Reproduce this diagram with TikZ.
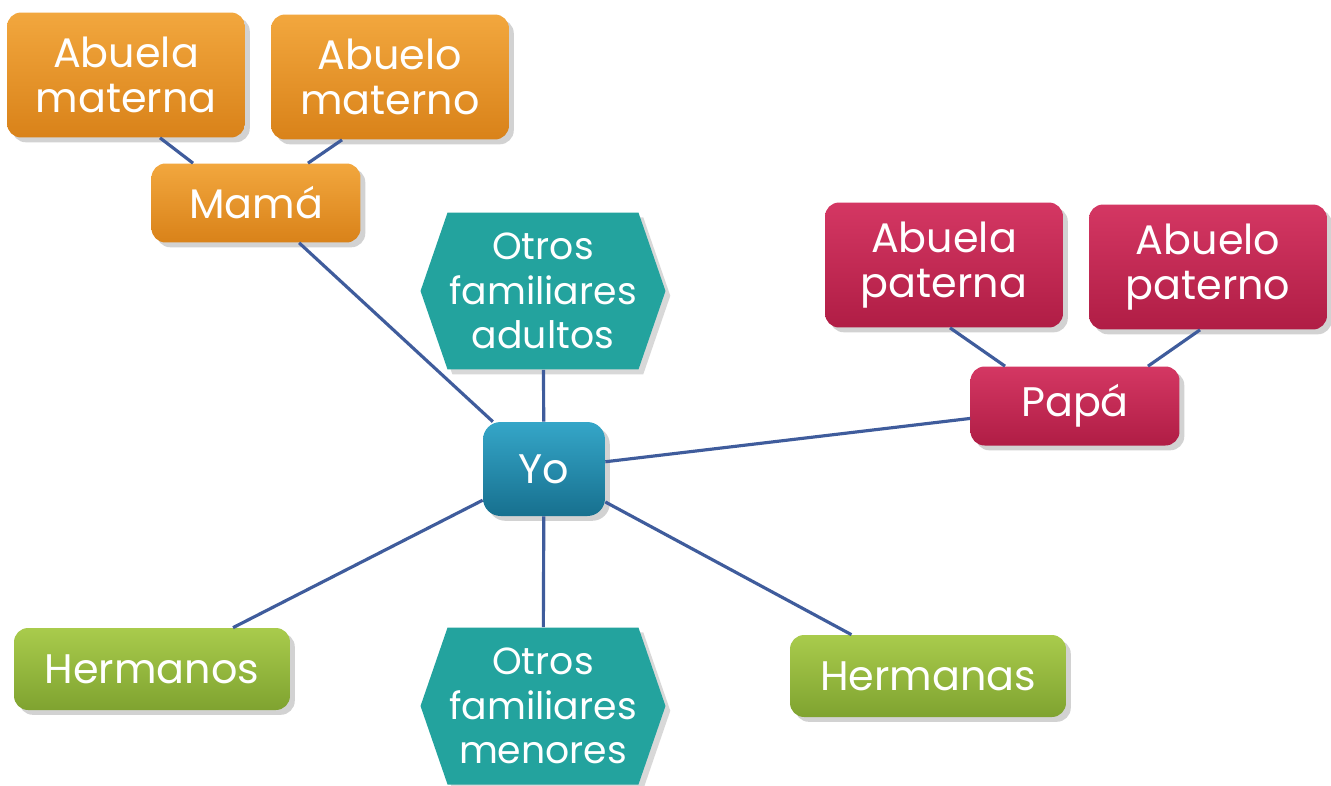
\documentclass[tikz,border=0pt]{standalone}
\usepackage{fontspec}
\setmainfont{Poppins}
\usetikzlibrary{shapes.symbols,shadows}

\definecolor{orangeTop}{HTML}{F2A73E}
\definecolor{orangeBot}{HTML}{D98219}
\definecolor{redTop}{HTML}{D43763}
\definecolor{redBot}{HTML}{B01D45}
\definecolor{tealFill}{HTML}{23A39E}
\definecolor{yoTop}{HTML}{35A6C8}
\definecolor{yoBot}{HTML}{17708F}
\definecolor{greenTop}{HTML}{A9CB4C}
\definecolor{greenBot}{HTML}{7FA330}
\definecolor{lineBlue}{HTML}{3F5C9C}

\begin{document}
\begin{tikzpicture}[x=0.02cm,y=-0.02cm]
        \tikzstyle{box}=[rounded corners=8pt,text=white,align=center,inner sep=2pt,
                         font=\fontsize{23.5}{26}\selectfont,drop shadow={opacity=0.35}]
        \tikzstyle{grandbox}=[box,minimum width=4.76cm,minimum height=2.5cm]
        \tikzstyle{parentbox}=[box,minimum width=4.18cm,minimum height=1.58cm]
        \tikzstyle{siblingbox}=[box,minimum width=5.52cm,minimum height=1.64cm,top color=greenTop,bottom color=greenBot]
        \tikzstyle{hexa}=[signal,signal to=east and west,signal pointer angle=142,fill=tealFill,
                          text=white,align=center,inner sep=0pt,minimum width=4.9cm,minimum height=3.14cm,
                          font=\fontsize{21.5}{25.5}\selectfont,drop shadow={opacity=0.3}]
        \tikzstyle{edge}=[draw,line width=1.8pt,lineBlue]

        \useasboundingbox[fill=white] (0,0) rectangle (1331,785);

        % maternal side
        \node [grandbox,top color=orangeTop,bottom color=orangeBot] (abuelaM) at (126,75) {Abuela\\materna};
        \node [grandbox,top color=orangeTop,bottom color=orangeBot] (abueloM) at (390,77) {Abuelo\\materno};
        \node [parentbox,top color=orangeTop,bottom color=orangeBot] (mama) at (256,203) {Mamá};

        % paternal side
        \node [grandbox,top color=redTop,bottom color=redBot] (abuelaP) at (944,265) {Abuela\\paterna};
        \node [grandbox,top color=redTop,bottom color=redBot] (abueloP) at (1208,267) {Abuelo\\paterno};
        \node [parentbox,top color=redTop,bottom color=redBot] (papa) at (1075,406) {Papá};

        % center
        \node [box,minimum width=2.44cm,minimum height=1.88cm,rounded corners=10pt,
               top color=yoTop,bottom color=yoBot] (yo) at (544,469) {Yo};
        \node [hexa] (adultos) at (543,291) {Otros\\familiares\\adultos};
        \node [hexa] (menores) at (543,706) {Otros\\familiares\\menores};

        % siblings
        \node [siblingbox] (hermanos) at (152,669) {Hermanos};
        \node [siblingbox] (hermanas) at (928,676) {Hermanas};

        \path[edge] ([xshift=0.68cm]abuelaM.south) -- ([xshift=-1.26cm]mama.north);
        \path[edge] ([xshift=-0.96cm]abueloM.south) -- ([xshift=1.04cm]mama.north);
        \path[edge] ([xshift=0.12cm]abuelaP.south) -- ([xshift=-1.4cm]papa.north);
        \path[edge] ([xshift=-0.16cm]abueloP.south) -- ([xshift=1.46cm]papa.north);

        \path[edge] (mama) -- (yo);
        \path[edge] (adultos) -- (yo);
        \path[edge] (papa) -- (yo);
        \path[edge] (hermanos) -- (yo);
        \path[edge] (menores) -- (yo);
        \path[edge] (hermanas) -- (yo);
\end{tikzpicture}
\end{document}
